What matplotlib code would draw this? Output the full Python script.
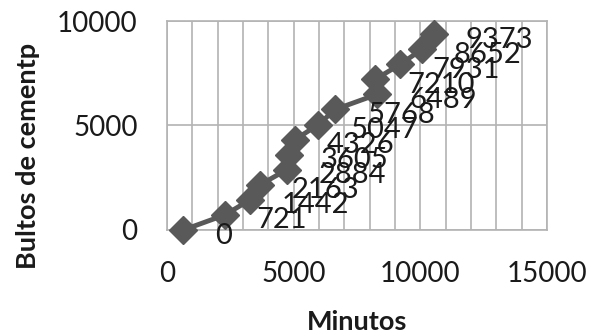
import matplotlib
matplotlib.use("Agg")
import matplotlib.pyplot as plt
from matplotlib.ticker import MultipleLocator

# ==========================================================
# Data
# ==========================================================

minutos = [650, 2290, 3280, 3680, 4730, 4800, 5060, 5980, 6640, 8290, 8220, 9210, 10070, 10530]

bultos = [0, 721, 1442, 2163, 2884, 3605, 4326, 5047, 5768, 6489, 7210, 7931, 8652, 9373]

x_ticks = [0, 5000, 10000, 15000]
y_ticks = [0, 5000, 10000]

# ==========================================================
# Plot
# ==========================================================

plt.rcParams["font.family"] = ["Lato", "DejaVu Sans"]

gray = "#595959"
grid_gray = "#b3b3b3"

fig = plt.figure(figsize=(6, 3.36), dpi=100)
ax = fig.add_axes([0.278, 0.3155, 0.634, 0.622])

ax.plot(
    minutos,
    bultos,
    color=gray,
    linewidth=3.5,
    marker="D",
    markersize=14.5,
    clip_on=False,
    zorder=3,
)

for xv, yv in zip(minutos, bultos):
    ax.annotate(
        str(yv),
        (xv, yv),
        xytext=(23, -4),
        textcoords="offset points",
        ha="left",
        va="center",
        fontsize=21,
        color="#1a1a1a",
        zorder=4,
        annotation_clip=False,
    )

ax.set_xlim(0, 15000)
ax.set_ylim(0, 10000)
ax.set_xticks(x_ticks)
ax.set_yticks(y_ticks)
ax.xaxis.set_minor_locator(MultipleLocator(1000))

ax.grid(which="both", axis="x", color=grid_gray, linewidth=1.2)
ax.grid(which="major", axis="y", color=grid_gray, linewidth=1.2)
ax.set_axisbelow(True)

for side in ax.spines.values():
    side.set_color(grid_gray)
    side.set_linewidth(1.2)

ax.tick_params(which="both", length=0, labelsize=20, colors="#1a1a1a")
ax.tick_params(axis="x", pad=22)
ax.tick_params(axis="y", pad=21)

fig.text(
    28 / 600,
    1 - 156 / 336,
    "Bultos de cementp",
    rotation=90,
    ha="center",
    va="center",
    fontsize=19.5,
    fontweight="bold",
    color="#1a1a1a",
)

fig.text(
    357 / 600,
    1 - 322 / 336,
    "Minutos",
    ha="center",
    va="center",
    fontsize=19.5,
    fontweight="bold",
    color="#1a1a1a",
)

fig.savefig("out.png", dpi=100)
